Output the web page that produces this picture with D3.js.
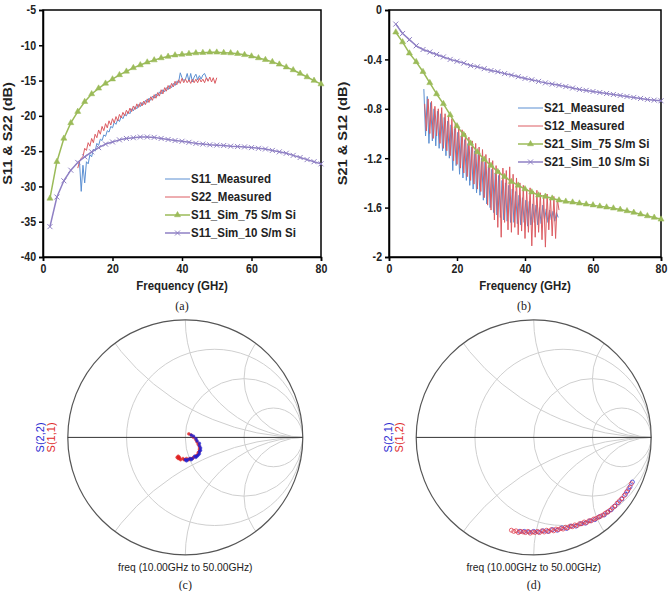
<!DOCTYPE html>
<html>
<head>
<meta charset="utf-8">
<script src="https://cdn.jsdelivr.net/npm/d3@7"></script>
<style>
body{margin:0;background:#fff;}
svg{display:block;}
.axis text{font-family:"Liberation Sans",Arial,sans-serif;font-weight:bold;font-size:12px;fill:#222;}
.axis path,.axis line{stroke:#000;stroke-width:1.5;}
.axisTitle{font-family:"Liberation Sans",Arial,sans-serif;font-weight:bold;font-size:13px;fill:#222;}
.legendText{font-family:"Liberation Sans",Arial,sans-serif;font-weight:bold;font-size:12.5px;fill:#222;}
.caption{font-family:"Liberation Serif","Times New Roman",serif;font-size:12px;fill:#222;}
.smithText{font-family:"Liberation Sans",Arial,sans-serif;font-size:10.3px;}
</style>
</head>
<body>
<script>
(function(){

//frequency grid of the simulated curves (GHz)
var simFreq = d3.range(2, 81, 2);

//(a) reflection, dB
var s11Sim75 = [-31.7,-26.5,-23.2,-21.0,-19.4,-18.0,-16.9,-16.1,-15.4,-14.8,
    -14.2,-13.7,-13.2,-12.8,-12.4,-12.1,-11.8,-11.6,-11.4,-11.3,
    -11.2,-11.1,-11.05,-11.0,-11.0,-11.05,-11.1,-11.2,-11.35,-11.55,
    -11.8,-12.05,-12.35,-12.7,-13.1,-13.5,-14.0,-14.5,-15.0,-15.5];
var s11Sim10 = [-35.7,-31.5,-29.2,-27.7,-26.6,-25.8,-25.1,-24.5,-24.0,-23.7,
    -23.4,-23.2,-23.1,-23.0,-23.0,-23.05,-23.2,-23.35,-23.5,-23.6,
    -23.75,-23.9,-24.0,-24.1,-24.15,-24.2,-24.3,-24.35,-24.4,-24.5,
    -24.6,-24.7,-24.9,-25.1,-25.3,-25.6,-25.9,-26.2,-26.5,-26.8];
//measured, 0.5 GHz steps
var s11MeasStart = 10.5;
var s11Meas = [-26.5,-30.7,-27.0,-29.5,-26.5,-26.8,-25.5,-25.8,-24.7,-25.0,
    -23.9,-24.2,-23.3,-23.5,-22.7,-22.9,-22.1,-22.3,-21.5,-21.7,
    -20.9,-21.2,-20.5,-20.8,-20.1,-20.4,-19.8,-20.0,-19.4,-19.7,
    -19.0,-19.3,-18.7,-19.0,-18.4,-18.7,-18.1,-18.4,-17.8,-18.1,
    -17.5,-17.8,-17.2,-17.5,-16.9,-17.2,-16.6,-16.9,-16.3,-16.6,
    -16.0,-16.3,-15.7,-16.0,-15.4,-15.7,-15.1,-15.3,-13.9,-14.6,
    -15.0,-14.8,-14.0,-15.1,-14.0,-15.2,-14.5,-14.1,-14.9,-14.3,
    -14.8,-14.2,-14.0,-14.6,-15.0];
var s22MeasStart = 10.0;
var s22Meas = [-27.4,-26.5,-26.0,-25.8,-24.6,-24.9,-23.8,-24.3,-23.2,-23.8,
    -22.6,-23.1,-22.0,-22.6,-21.5,-22.1,-21.1,-21.7,-20.7,-21.3,
    -20.4,-21.0,-20.1,-20.7,-19.8,-20.3,-19.5,-20.0,-19.2,-19.7,
    -18.9,-19.4,-18.6,-19.1,-18.3,-18.8,-18.1,-18.6,-17.9,-18.4,
    -17.6,-18.1,-17.3,-17.8,-17.0,-17.5,-16.7,-17.2,-16.3,-16.9,
    -16.0,-16.5,-15.7,-16.2,-15.4,-15.9,-15.1,-15.6,-14.9,-15.4,
    -14.7,-15.3,-14.8,-15.3,-14.9,-15.4,-14.8,-15.3,-14.8,-15.3,
    -14.7,-15.2,-14.8,-15.3,-14.6,-15.1,-14.5,-15.2,-14.6,-15.4,-14.6];

//(b) transmission, dB
var s21Sim75 = [-0.18,-0.26,-0.35,-0.42,-0.50,-0.59,-0.68,-0.76,-0.85,-0.94,
    -1.01,-1.08,-1.15,-1.21,-1.26,-1.31,-1.35,-1.39,-1.42,-1.45,
    -1.475,-1.50,-1.51,-1.525,-1.54,-1.55,-1.557,-1.565,-1.573,-1.58,
    -1.59,-1.597,-1.605,-1.616,-1.627,-1.64,-1.654,-1.668,-1.68,-1.695];
var s21Sim10 = [-0.114,-0.19,-0.24,-0.29,-0.32,-0.34,-0.36,-0.38,-0.40,-0.415,
    -0.43,-0.45,-0.46,-0.475,-0.49,-0.50,-0.515,-0.527,-0.54,-0.554,
    -0.565,-0.578,-0.59,-0.60,-0.61,-0.62,-0.632,-0.643,-0.651,-0.66,
    -0.668,-0.676,-0.684,-0.692,-0.70,-0.708,-0.716,-0.724,-0.73,-0.735];
var s21MeasStart = 10.25;
var s21Meas = [-0.64,-1.02,-0.70,-1.08,-0.75,-1.06,-0.80,-1.10,-0.82,-1.12,
    -0.84,-1.14,-0.87,-1.18,-0.90,-1.20,-0.93,-1.30,-0.96,-1.26,
    -0.99,-1.33,-1.02,-1.36,-1.05,-1.38,-1.08,-1.42,-1.11,-1.45,
    -1.14,-1.48,-1.17,-1.50,-1.20,-1.54,-1.23,-1.57,-1.26,-1.60,
    -1.29,-1.64,-1.32,-1.66,-1.34,-1.68,-1.38,-1.70,-1.40,-1.71,
    -1.42,-1.72,-1.45,-1.72,-1.47,-1.73,-1.50,-1.74,-1.52,-1.72,
    -1.54,-1.75,-1.55,-1.74,-1.57,-1.72,-1.58,-1.74,-1.60,-1.73,
    -1.58,-1.70,-1.61,-1.72,-1.62,-1.70,-1.63,-1.71,-1.64,-1.68];
var s12MeasStart = 10.5;
var s12Meas = [-0.76,-0.98,-0.72,-1.00,-0.74,-1.04,-0.78,-1.02,-0.80,-1.08,
    -0.79,-1.12,-0.84,-1.14,-0.86,-1.18,-0.88,-1.22,-0.92,-1.25,
    -0.95,-1.28,-0.97,-1.32,-1.00,-1.35,-1.03,-1.38,-1.06,-1.41,
    -1.08,-1.45,-1.11,-1.47,-1.13,-1.52,-1.17,-1.58,-1.20,-1.62,
    -1.22,-1.70,-1.26,-1.76,-1.30,-1.84,-1.28,-1.72,-1.30,-1.78,
    -1.27,-1.80,-1.33,-1.76,-1.36,-1.82,-1.40,-1.79,-1.42,-1.85,
    -1.45,-1.80,-1.44,-1.91,-1.47,-1.84,-1.46,-1.80,-1.48,-1.86,
    -1.50,-1.92,-1.49,-1.78,-1.52,-1.83,-1.51,-1.85,-1.53,-1.62];

//(c) reflection coefficient, 10-50 GHz
var s11Re = [0.03,0.05,0.07,0.09,0.10,0.11,0.12,0.12,0.12,0.11,0.10,0.09,0.07,
    0.06,0.04,0.03,0.01,-0.01,-0.02,-0.04,-0.05,-0.06,-0.07,-0.06,-0.05];
var s11Im = [0.03,0.02,0.00,-0.02,-0.04,-0.06,-0.08,-0.10,-0.12,-0.13,-0.15,-0.16,-0.17,
    -0.18,-0.18,-0.19,-0.18,-0.19,-0.18,-0.19,-0.17,-0.18,-0.17,-0.16,-0.18];
var s22Re = [0.05,0.07,0.09,0.10,0.12,0.12,0.13,0.13,0.12,0.12,
    0.11,0.10,0.09,0.08,0.06,0.05,0.04,0.02,0.01,0.00];
var s22Im = [0.02,0.01,-0.01,-0.03,-0.05,-0.07,-0.09,-0.11,-0.12,-0.14,
    -0.15,-0.16,-0.17,-0.16,-0.18,-0.19,-0.18,-0.19,-0.20,-0.19];

//(d) transmission coefficient, 10-50 GHz
var s12Re = [-0.19,-0.17,-0.15,-0.13,-0.11,-0.09,-0.07,-0.05,-0.03,-0.01,
    0.01,0.03,0.05,0.07,0.09,0.11,0.13,0.15,0.17,0.19,
    0.21,0.23,0.25,0.27,0.29,0.31,0.33,0.35,0.37,0.39,
    0.41,0.43,0.45,0.47,0.49,0.51,0.53,0.55,0.57,0.59,
    0.61,0.63,0.65,0.67,0.69,0.71,0.73,0.75,0.77,0.79,0.81,0.83];
var s12Im = [-0.79,-0.80,-0.795,-0.81,-0.80,-0.805,-0.81,-0.80,-0.815,-0.805,
    -0.81,-0.80,-0.81,-0.795,-0.805,-0.79,-0.80,-0.785,-0.795,-0.78,
    -0.785,-0.775,-0.78,-0.765,-0.77,-0.755,-0.76,-0.745,-0.75,-0.735,
    -0.735,-0.72,-0.725,-0.71,-0.71,-0.695,-0.69,-0.68,-0.67,-0.66,
    -0.645,-0.635,-0.62,-0.60,-0.585,-0.56,-0.54,-0.52,-0.495,-0.465,-0.435,-0.395];
var s21Re = [-0.12,-0.08,-0.04,0.0,0.04,0.08,0.12,0.16,0.20,0.24,
    0.28,0.32,0.36,0.40,0.44,0.48,0.52,0.56,0.60,0.63,
    0.66,0.69,0.72,0.75,0.78,0.80,0.82,0.84];
var s21Im = [-0.80,-0.80,-0.805,-0.80,-0.805,-0.795,-0.80,-0.785,-0.79,-0.77,
    -0.775,-0.755,-0.755,-0.735,-0.73,-0.71,-0.70,-0.675,-0.66,-0.635,
    -0.615,-0.585,-0.555,-0.525,-0.485,-0.455,-0.42,-0.38];

//smith grid: resistance circles and reactance arcs
var smithR = [1/3, 1, 3];
var smithX = [0.5, 1, 2, -0.5, -1, -2];

//colours
var blue = "#5b8fd2", red = "#dc5c62", green = "#9bbb59", purple = "#8f80c4";

var svg = d3.select("body").append("svg")
    .attr("width", 669)
    .attr("height", 591);

//turn a start + step array into points
function measured(start, values){
    return values.map(function(v, i){ return [start + i * 0.5, v]; });
}
function simulated(values){
    return values.map(function(v, i){ return [simFreq[i], v]; });
}

//squeeze text horizontally, the original used a narrow face
function condense(sel, f){
    sel.each(function(){
        var w = this.getComputedTextLength();
        d3.select(this)
            .attr("textLength", w * f)
            .attr("lengthAdjust", "spacingAndGlyphs");
    });
}

function drawXY(opt){
    var g = svg.append("g");
    var x = d3.scaleLinear().domain([0, 80]).range([opt.left, opt.right]);
    var y = d3.scaleLinear().domain(opt.yDomain).range([opt.bottom, opt.top]);

    //plot frame
    g.append("rect")
        .attr("x", opt.left)
        .attr("y", opt.top)
        .attr("width", opt.right - opt.left)
        .attr("height", opt.bottom - opt.top)
        .attr("fill", "none")
        .attr("stroke", "#000")
        .attr("stroke-width", 1.5);

    var xAxis = g.append("g")
        .attr("class", "axis")
        .attr("transform", "translate(0," + opt.bottom + ")")
        .call(d3.axisBottom(x).tickValues([0, 20, 40, 60, 80]).tickSizeOuter(0).tickSize(4).tickPadding(3));

    var yAxis = g.append("g")
        .attr("class", "axis")
        .attr("transform", "translate(" + opt.left + ",0)")
        .call(d3.axisLeft(y).tickValues(opt.yTicks).tickSizeOuter(0).tickSize(4).tickPadding(3)
            .tickFormat(function(d){ return String(d); }));
    condense(xAxis.selectAll("text"), 0.88);
    condense(yAxis.selectAll("text"), 0.88);

    var line = d3.line()
        .x(function(d){ return x(d[0]); })
        .y(function(d){ return y(d[1]); });

    //series drawn in legend order
    opt.series.forEach(function(s){
        g.append("path")
            .datum(s.data)
            .attr("fill", "none")
            .attr("stroke", s.color)
            .attr("stroke-width", s.width)
            .attr("stroke-linejoin", "round")
            .attr("d", line);
        if (s.marker){
            g.selectAll(null)
                .data(s.data)
                .enter()
                .append("path")
                .attr("transform", function(d){ return "translate(" + x(d[0]) + "," + y(d[1]) + ")"; })
                .attr("d", markerPath(s.marker))
                .attr("fill", s.marker == "tri" ? s.color : "none")
                .attr("stroke", s.color)
                .attr("stroke-width", s.marker == "tri" ? 0.5 : 1);
        }
    });

    //legend
    var lg = g.append("g");
    opt.series.forEach(function(s, i){
        var ly = opt.legendY + i * 18;
        lg.append("line")
            .attr("x1", opt.legendX)
            .attr("x2", opt.legendX + 25)
            .attr("y1", ly)
            .attr("y2", ly)
            .attr("stroke", s.color)
            .attr("stroke-width", s.width);
        if (s.marker){
            lg.append("path")
                .attr("transform", "translate(" + (opt.legendX + 12.5) + "," + ly + ")")
                .attr("d", markerPath(s.marker))
                .attr("fill", s.marker == "tri" ? s.color : "none")
                .attr("stroke", s.color)
                .attr("stroke-width", s.marker == "tri" ? 0.5 : 1);
        }
        lg.append("text")
            .attr("class", "legendText")
            .attr("x", opt.legendX + 26)
            .attr("y", ly)
            .attr("dy", "0.35em")
            .text(s.name);
    });
    condense(lg.selectAll("text"), 0.92);

    //axis titles and caption
    var xt = g.append("text")
        .attr("class", "axisTitle")
        .attr("x", (opt.left + opt.right) / 2)
        .attr("y", 290)
        .attr("text-anchor", "middle")
        .text("Frequency (GHz)");
    condense(xt, 0.88);
    var yt = g.append("text")
        .attr("class", "axisTitle")
        .attr("transform", "translate(" + opt.titleX + "," + ((opt.top + opt.bottom) / 2) + ") rotate(-90)")
        .attr("text-anchor", "middle")
        .text(opt.yTitle);
    condense(yt, 1.12);
    g.append("text")
        .attr("class", "caption")
        .attr("x", opt.captionX)
        .attr("y", 310)
        .attr("text-anchor", "middle")
        .text(opt.caption);
}

function markerPath(type){
    if (type == "tri") return d3.symbol(d3.symbolTriangle, 16)();
    return "M-2.5,-2.5L2.5,2.5M-2.5,2.5L2.5,-2.5";
}

function drawSmith(opt){
    var g = svg.append("g");
    var R = 117.5;
    var gx = d3.scaleLinear().domain([-1, 1]).range([opt.cx - R, opt.cx + R]);
    var gy = d3.scaleLinear().domain([-1, 1]).range([opt.cy + R, opt.cy - R]);
    var k = R; //radius scale, gamma units to pixels

    var clipId = "clip" + opt.id;
    g.append("clipPath").attr("id", clipId)
        .append("circle")
        .attr("cx", gx(0)).attr("cy", gy(0)).attr("r", k);

    var grid = g.append("g").attr("clip-path", "url(#" + clipId + ")");
    grid.selectAll(".rc")
        .data(smithR)
        .enter()
        .append("circle")
        .attr("cx", function(r){ return gx(r / (1 + r)); })
        .attr("cy", gy(0))
        .attr("r", function(r){ return k / (1 + r); })
        .attr("fill", "none")
        .attr("stroke", "#cfcfcf")
        .attr("stroke-width", 1);
    grid.selectAll(".xc")
        .data(smithX)
        .enter()
        .append("circle")
        .attr("cx", gx(1))
        .attr("cy", function(xv){ return gy(1 / xv); })
        .attr("r", function(xv){ return k / Math.abs(xv); })
        .attr("fill", "none")
        .attr("stroke", "#cfcfcf")
        .attr("stroke-width", 1);

    //outer circle and real axis
    g.append("circle")
        .attr("cx", gx(0)).attr("cy", gy(0)).attr("r", k)
        .attr("fill", "none")
        .attr("stroke", "#555")
        .attr("stroke-width", 1.2);
    g.append("line")
        .attr("x1", gx(-1)).attr("x2", gx(1))
        .attr("y1", gy(0)).attr("y2", gy(0))
        .attr("stroke", "#333")
        .attr("stroke-width", 1);

    opt.traces.forEach(function(t){
        g.selectAll(null)
            .data(t.re.map(function(v, i){ return [v, t.im[i]]; }))
            .enter()
            .append("circle")
            .attr("cx", function(d){ return gx(d[0]); })
            .attr("cy", function(d){ return gy(d[1]); })
            .attr("r", opt.dotR)
            .attr("fill", opt.open ? "none" : t.color)
            .attr("stroke", t.color)
            .attr("stroke-width", opt.open ? 0.9 : 0.5)
            .attr("opacity", 0.85);
    });

    //trace names, rotated on the left
    opt.labels.forEach(function(l, i){
        g.append("text")
            .attr("class", "smithText")
            .attr("transform", "translate(" + (opt.cx - R - 24 + i * 11) + "," + opt.cy + ") rotate(-90)")
            .attr("text-anchor", "middle")
            .attr("fill", l.color)
            .style("font-size", "11px")
            .text(l.text);
    });

    g.append("text")
        .attr("class", "smithText")
        .attr("x", opt.cx)
        .attr("y", 571)
        .attr("text-anchor", "middle")
        .attr("fill", "#222")
        .text("freq (10.00GHz to 50.00GHz)");
    g.append("text")
        .attr("class", "caption")
        .attr("x", opt.cx)
        .attr("y", 589)
        .attr("text-anchor", "middle")
        .text(opt.caption);
}

drawXY({
    left: 43, right: 321, top: 10, bottom: 257,
    yDomain: [-40, -5], yTicks: [-40, -35, -30, -25, -20, -15, -10, -5],
    yTitle: "S11 & S22 (dB)", titleX: 12, caption: "(a)", captionX: 182,
    legendX: 165, legendY: 179,
    series: [
        {name: "S11_Measured", color: blue, width: 1, data: measured(s11MeasStart, s11Meas)},
        {name: "S22_Measured", color: red, width: 1, data: measured(s22MeasStart, s22Meas)},
        {name: "S11_Sim_75 S/m Si", color: green, width: 1.5, marker: "tri", data: simulated(s11Sim75)},
        {name: "S11_Sim_10 S/m Si", color: purple, width: 1.5, marker: "x", data: simulated(s11Sim10)}
    ]
});

drawXY({
    left: 389, right: 661, top: 10, bottom: 257,
    yDomain: [-2, 0], yTicks: [-2, -1.6, -1.2, -0.8, -0.4, 0],
    yTitle: "S21 & S12 (dB)", titleX: 347, caption: "(b)", captionX: 524,
    legendX: 518, legendY: 108,
    series: [
        {name: "S21_Measured", color: blue, width: 1, data: measured(s21MeasStart, s21Meas)},
        {name: "S12_Measured", color: red, width: 1, data: measured(s12MeasStart, s12Meas)},
        {name: "S21_Sim_75 S/m Si", color: green, width: 1.5, marker: "tri", data: simulated(s21Sim75)},
        {name: "S21_Sim_10 S/m Si", color: purple, width: 1.5, marker: "x", data: simulated(s21Sim10)}
    ]
});

drawSmith({
    id: "c", cx: 185.3, cy: 437.4, caption: "(c)", dotR: 1.4, open: false,
    traces: [
        {re: s11Re, im: s11Im, color: "#e02020"},
        {re: s22Re, im: s22Im, color: "#2020d0"}
    ],
    labels: [{text: "S(2,2)", color: "#2a2ad0"}, {text: "S(1,1)", color: "#e02a2a"}]
});

drawSmith({
    id: "d", cx: 533.7, cy: 437.4, caption: "(d)", dotR: 2, open: true,
    traces: [
        {re: s21Re, im: s21Im, color: "#3030d8"},
        {re: s12Re, im: s12Im, color: "#e03a4a"}
    ],
    labels: [{text: "S(2,1)", color: "#2a2ad0"}, {text: "S(1,2)", color: "#e02a2a"}]
});

})();
</script>
</body>
</html>
